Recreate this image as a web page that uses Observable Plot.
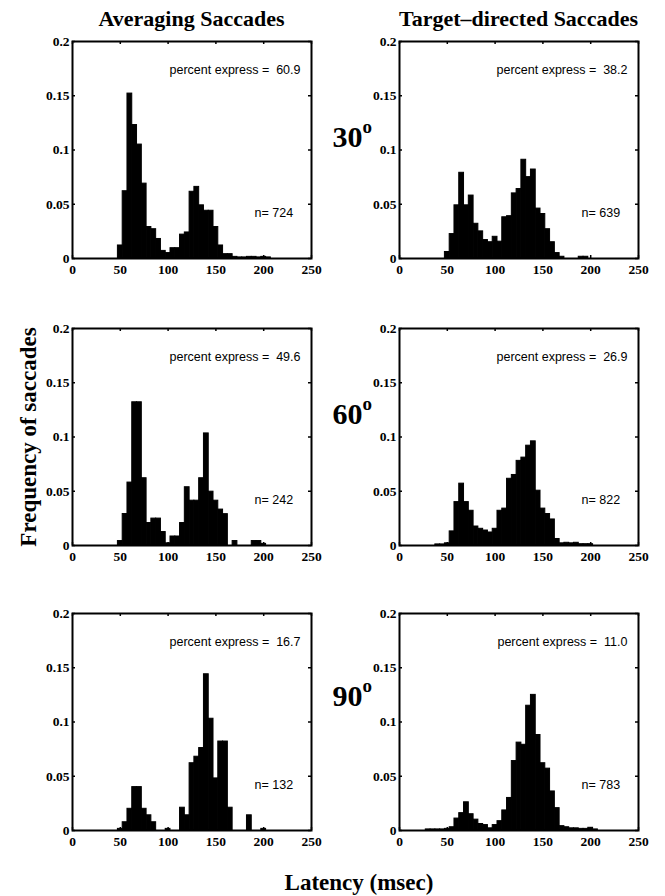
<!DOCTYPE html>
<html>
<head>
<meta charset="utf-8">
<script src="https://cdn.jsdelivr.net/npm/d3@7"></script>
<script src="https://cdn.jsdelivr.net/npm/@observablehq/plot@0.6"></script>
<style>
  body { margin: 0; background: #fff; }
  #fig { position: relative; width: 665px; height: 896px; overflow: hidden; background: #fff; }
  #fig > svg { position: absolute; }
  #fig .tick-lbl text { font-family: 'Liberation Serif','Times New Roman',Times,serif; font-weight: bold; font-size: 13.5px; }
</style>
</head>
<body>
<div id="fig"></div>
<script>
// ---- data ----
const latencyBins = [30,35,40,45,50,55,60,65,70,75,80,85,90,95,100,105,110,115,120,125,130,135,140,145,150,155,160,165,170,175,180,185,190,195,200,205,210,215,220];

const avg30 = [0,0,0,0,0.012,0.062,0.152,0.123,0.105,0.069,0.029,0.027,0.018,0.007,0.005,0.0095,0.0095,0.022,0.024,0.0615,0.066,0.049,0.044,0.044,0.029,0.012,0.004,0.004,0.0015,0.001,0.001,0.0015,0.0015,0.001,0.0015,0.001,0,0,0];
const tgt30 = [0,0,0,0,0.006,0.0225,0.049,0.079,0.049,0.058,0.032,0.025,0.017,0.015,0.020,0.0155,0.038,0.039,0.060,0.064,0.091,0.075,0.082,0.046,0.041,0.027,0.015,0.005,0.0016,0,0,0,0.0016,0.0016,0,0,0,0,0];
const avg60 = [0,0,0,0,0.0041,0.029,0.058,0.132,0.132,0.062,0.0207,0.0248,0.0248,0.0124,0.002,0.0083,0.0083,0.0207,0.0537,0.0413,0.0413,0.062,0.1033,0.0496,0.0413,0.0331,0.0289,0,0.0041,0,0,0,0.0041,0.0041,0.0015,0,0,0,0];
const tgt60 = [0,0,0.001,0.001,0.002,0.013,0.040,0.057,0.040,0.032,0.0175,0.0154,0.0138,0.012,0.0154,0.032,0.034,0.0615,0.065,0.078,0.081,0.092,0.096,0.0505,0.034,0.029,0.024,0.006,0.002,0.0025,0.002,0.0025,0.0012,0.0012,0.0012,0,0,0,0];
const avg90 = [0,0,0,0,0.0015,0.0076,0.020,0.040,0.040,0.020,0.014,0.0076,0,0,0.0015,0,0,0.021,0.014,0.062,0.068,0.076,0.144,0.103,0.048,0.082,0.082,0.021,0,0,0,0.014,0,0,0.0015,0,0,0,0];
const tgt90 = [0.001,0.001,0.001,0.001,0.0015,0.003,0.011,0.016,0.026,0.015,0.010,0.006,0.005,0.002,0.005,0.0086,0.0185,0.030,0.064,0.081,0.079,0.115,0.125,0.088,0.062,0.057,0.036,0.0206,0.004,0.003,0.002,0.002,0.0015,0.0015,0.0025,0.001,0,0,0];

const percentExpress = ["60.9","38.2","49.6","26.9","16.7","11.0"];
const nSaccades = [724,639,242,822,132,783];
const columnTitles = ["Averaging Saccades","Target\u2013directed Saccades"];
const rowLabels = ["30","60","90"];
const xTicks = [0,50,100,150,200,250];
const yTicks = [0,0.05,0.1,0.15,0.2];
const xLabel = "Latency (msec)";
const yLabel = "Frequency of saccades";

// ---- layout ----
const series = [avg30, tgt30, avg60, tgt60, avg90, tgt90];
const colLeft = [72, 399];
const rowTop = [41, 328, 613];
const FW = 239, FH = 217;
const ML = 40, MR = 16, MT = 10, MB = 24;
const serif = "'Liberation Serif','Times New Roman',Times,serif";
const sans = "'Liberation Sans',Arial,Helvetica,sans-serif";

const fig = document.getElementById("fig");

function panel(vals, pct, n) {
  const data = latencyBins.map((c, i) => ({c, v: vals[i]}));
  return Plot.plot({
    width: FW + ML + MR, height: FH + MT + MB,
    marginLeft: ML, marginRight: MR, marginTop: MT, marginBottom: MB,
    style: {fontFamily: serif, fontWeight: "bold", fontSize: "13.5px", color: "black", background: "transparent", overflow: "visible"},
    x: {domain: [0, 250], axis: null, label: null},
    y: {domain: [0, 0.2], axis: null, label: null},
    marks: [
      Plot.rectY(data, {x1: d => d.c - 2.5, x2: d => d.c + 2.5, y: "v", fill: "black", stroke: "black", strokeWidth: 1}),
      Plot.tickX(xTicks, {x: d => d, stroke: "black", strokeWidth: 1.5, insetTop: FH - 3}),
      Plot.tickX(xTicks, {x: d => d, stroke: "black", strokeWidth: 1.5, insetBottom: FH - 3}),
      Plot.tickY(yTicks, {y: d => d, stroke: "black", strokeWidth: 1.5, insetRight: FW - 3}),
      Plot.tickY(yTicks, {y: d => d, stroke: "black", strokeWidth: 1.5, insetLeft: FW - 3}),
      Plot.frame({stroke: "black", strokeWidth: 2}),
      Plot.axisX(xTicks, {tickSize: 0, tickPadding: 6, tickFormat: d => String(d), label: null, className: "tick-lbl"}),
      Plot.axisY(yTicks, {tickSize: 0, tickPadding: 3, tickFormat: d => String(d), label: null, className: "tick-lbl"}),
      Plot.text([`percent express = \u00a0${pct}`], {frameAnchor: "top-right", dx: -11, dy: 24, textAnchor: "end", fontFamily: sans, fontWeight: "normal", fontSize: 12.5, fill: "black"}),
      Plot.text([`n= ${n}`], {frameAnchor: "bottom-left", dx: 182, dy: -42, textAnchor: "start", fontFamily: sans, fontWeight: "normal", fontSize: 12.5, fill: "black"})
    ]
  });
}

series.forEach((vals, i) => {
  const row = Math.floor(i / 2), col = i % 2;
  const svg = panel(vals, percentExpress[i], nSaccades[i]);
  svg.style.left = (colLeft[col] - ML) + "px";
  svg.style.top = (rowTop[row] - MT) + "px";
  fig.appendChild(svg);
});

// ---- overlay text ----
const ov = d3.create("svg").attr("width", 665).attr("height", 896)
  .style("left", "0px").style("top", "0px")
  .attr("font-family", serif).attr("font-weight", "bold").attr("fill", "black");

columnTitles.forEach((t, j) => {
  ov.append("text").attr("x", colLeft[j] + FW / 2).attr("y", 26)
    .attr("text-anchor", "middle").attr("font-size", 22).text(t);
});

const rowBase = [147, 424, 706];
rowLabels.forEach((t, r) => {
  const tx = ov.append("text").attr("x", 372).attr("y", rowBase[r]).attr("text-anchor", "end");
  tx.append("tspan").attr("font-size", 30).text(t);
  tx.append("tspan").attr("font-size", 19).attr("dy", -14).text("o");
});

ov.append("text").attr("transform", "translate(36,437) rotate(-90)")
  .attr("text-anchor", "middle").attr("font-size", 23).text(yLabel);

ov.append("text").attr("x", 359).attr("y", 890)
  .attr("text-anchor", "middle").attr("font-size", 23).text(xLabel);

fig.appendChild(ov.node());
</script>
</body>
</html>
